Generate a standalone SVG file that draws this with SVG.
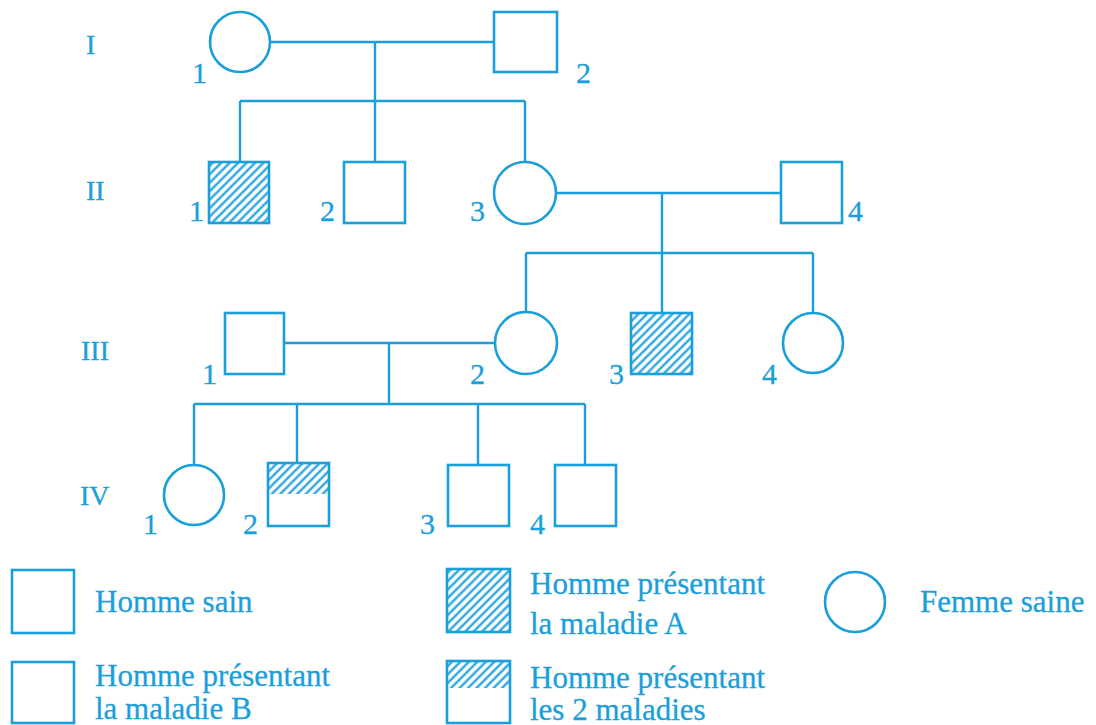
<svg xmlns="http://www.w3.org/2000/svg" width="1096" height="725" viewBox="0 0 1096 725">
<style>
.o{fill:none;stroke:#1a9fdb;stroke-width:2.6}
.h{fill:url(#hatch);stroke:#1a9fdb;stroke-width:2.6}
.hp{fill:url(#hatch);stroke:none}
.c{fill:none;stroke:#1a9fdb;stroke-width:2.4}
.n,.g,.l{font-family:'Liberation Serif','DejaVu Serif',serif;fill:#1a9fdb;stroke:#1a9fdb;stroke-width:0.3}
.n{font-size:30px}
.g{font-size:28px}
.l{font-size:31px}
</style>
<defs>
<pattern id="hatch" width="6" height="6" patternUnits="userSpaceOnUse" patternTransform="rotate(45)">
<rect width="6" height="6" fill="#fff"/>
<line x1="1.5" y1="0" x2="1.5" y2="6" stroke="#1a9fdb" stroke-width="2.2"/>
</pattern>
</defs>
<rect width="1096" height="725" fill="#fff"/>

<g id="generations">
<text class="g" x="86" y="54">I</text>
<text class="g" x="86" y="200">II</text>
<text class="g" x="81" y="360">III</text>
<text class="g" x="80" y="505">IV</text>
</g>

<g id="connectors">
<path class="c" d="M270 42H493 M375 42V101 M240 101H525 M240 101V162 M375 101V162 M525 101V162"/>
<path class="c" d="M556 193H781 M662 193V253 M526 253H813 M526 253V313 M662 253V313 M813 253V313"/>
<path class="c" d="M284 343H495 M389 343V404 M194 404H585 M194 404V465 M297 404V463 M478 404V465 M585 404V465"/>
</g>

<g id="I-1"><circle class="o" cx="240" cy="42" r="30"/><text class="n" x="192" y="83">1</text></g>
<g id="I-2"><rect class="o" x="494" y="12" width="63" height="60"/><text class="n" x="576" y="83">2</text></g>

<g id="II-1"><rect class="h" x="209" y="162" width="60" height="61"/><text class="n" x="189" y="221">1</text></g>
<g id="II-2"><rect class="o" x="344" y="162" width="61" height="61"/><text class="n" x="320" y="221">2</text></g>
<g id="II-3"><circle class="o" cx="525" cy="193" r="31"/><text class="n" x="470" y="221">3</text></g>
<g id="II-4"><rect class="o" x="781" y="162" width="61" height="61"/><text class="n" x="848" y="221">4</text></g>

<g id="III-1"><rect class="o" x="225" y="313" width="59" height="61"/><text class="n" x="202" y="384">1</text></g>
<g id="III-2"><circle class="o" cx="526" cy="343" r="31"/><text class="n" x="470" y="384">2</text></g>
<g id="III-3"><rect class="h" x="631" y="313" width="61" height="61"/><text class="n" x="609" y="384">3</text></g>
<g id="III-4"><circle class="o" cx="813" cy="343" r="30"/><text class="n" x="762" y="384">4</text></g>

<g id="IV-1"><circle class="o" cx="194" cy="495" r="30"/><text class="n" x="143" y="534">1</text></g>
<g id="IV-2"><rect class="hp" x="268" y="463" width="61" height="31"/><rect class="o" x="268" y="463" width="61" height="63"/><text class="n" x="243" y="534">2</text></g>
<g id="IV-3"><rect class="o" x="448" y="465" width="61" height="61"/><text class="n" x="420" y="534">3</text></g>
<g id="IV-4"><rect class="o" x="555" y="465" width="61" height="61"/><text class="n" x="530" y="534">4</text></g>

<g id="legend-homme-sain"><rect class="o" x="12" y="570" width="62" height="63"/><text class="l" x="95" y="612">Homme sain</text></g>
<g id="legend-maladie-B"><rect class="o" x="12" y="662" width="62" height="61"/><text class="l" x="95" y="686">Homme présentant</text><text class="l" x="95" y="719">la maladie B</text></g>
<g id="legend-maladie-A"><rect class="h" x="447" y="569" width="63" height="63"/><text class="l" x="530" y="594">Homme présentant</text><text class="l" x="530" y="634">la maladie A</text></g>
<g id="legend-2-maladies"><rect class="hp" x="447" y="661" width="63" height="27"/><rect class="o" x="447" y="661" width="63" height="62"/><text class="l" x="530" y="688">Homme présentant</text><text class="l" x="530" y="720">les 2 maladies</text></g>
<g id="legend-femme-saine"><circle class="o" cx="855" cy="602" r="30"/><text class="l" x="920" y="612">Femme saine</text></g>
</svg>
